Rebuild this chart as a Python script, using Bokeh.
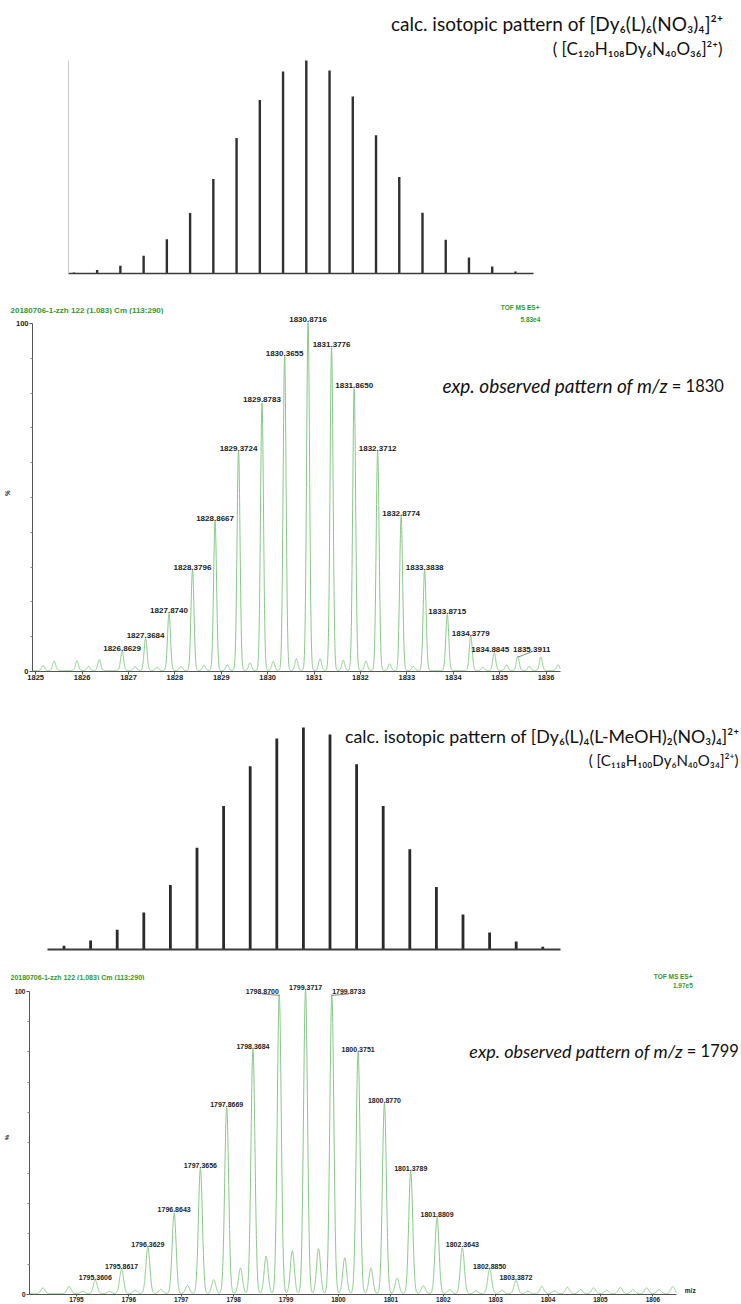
import numpy as np
from bokeh.plotting import figure
from bokeh.models import Range1d, LinearAxis, FixedTicker, Label, ColumnDataSource
from bokeh.layouts import column
from bokeh.embed import file_html
from bokeh.resources import INLINE
from bokeh.core.properties import value

# ---------------- data ----------------
calc1_mz = [1825.87, 1826.37, 1826.87, 1827.37, 1827.87, 1828.37, 1828.87, 1829.37, 1829.87, 1830.37,
            1830.87, 1831.37, 1831.87, 1832.37, 1832.87, 1833.37, 1833.87, 1834.37, 1834.87, 1835.37]
calc1_int = [0.5, 1.6, 3.6, 8.3, 16.1, 28.4, 44.4, 63.6, 81.5, 94.8,
             100, 95.3, 83.1, 64.9, 45.3, 28.5, 15.8, 7.5, 3.3, 0.9]

exp1_mz = [1826.8629, 1827.3684, 1827.8740, 1828.3796, 1828.8667, 1829.3724, 1829.8783, 1830.3655, 1830.8716,
           1831.3776, 1831.8650, 1832.3712, 1832.8774, 1833.3838, 1833.8715, 1834.3779, 1834.8845, 1835.3911]
exp1_int = [5.6, 9.2, 16.4, 28.8, 42.9, 63.0, 76.9, 90.3, 100,
            92.7, 81.0, 63.0, 44.3, 28.8, 16.1, 9.9, 5.1, 4.1]
exp1_other_mz = [1825.16, 1825.40, 1825.89, 1826.14, 1826.37, 1827.14, 1827.62, 1828.13, 1828.63, 1829.13,
                 1829.62, 1830.12, 1830.62, 1831.13, 1831.63, 1832.12, 1832.63, 1833.14, 1834.64, 1835.15,
                 1835.64, 1835.89, 1836.26]
exp1_other_int = [1.4, 2.7, 2.8, 1.2, 3.1, 1.2, 1.0, 1.2, 1.5, 1.6,
                  2.2, 2.6, 3.4, 3.4, 2.9, 2.7, 1.9, 1.2, 1.0, 1.6,
                  1.2, 3.8, 1.6]
exp1_ticks = [1825, 1826, 1827, 1828, 1829, 1830, 1831, 1832, 1833, 1834, 1835, 1836]

calc2_mz = [1794.87, 1795.37, 1795.87, 1796.37, 1796.87, 1797.37, 1797.87, 1798.37, 1798.87, 1799.37,
            1799.87, 1800.37, 1800.87, 1801.37, 1801.87, 1802.37, 1802.87, 1803.37, 1803.87]
calc2_int = [1.7, 4.1, 8.9, 16.7, 29.0, 45.8, 64.6, 82.6, 95.0, 100,
             96.8, 83.5, 64.6, 45.2, 28.2, 15.8, 7.7, 3.6, 1.2]

exp2_mz = [1795.3606, 1795.8617, 1796.3629, 1796.8643, 1797.3656, 1797.8669, 1798.3684, 1798.8700, 1799.3717,
           1799.8733, 1800.3751, 1800.8770, 1801.3789, 1801.8809, 1802.3643, 1802.8850, 1803.3872]
exp2_int = [4.4, 8.0, 15.3, 26.6, 41.3, 61.3, 80.5, 98.6, 100,
            98.6, 79.6, 62.7, 40.3, 25.0, 15.1, 8.0, 4.3]
exp2_other_mz = [1794.36, 1794.86, 1795.12, 1795.63, 1796.12, 1796.61, 1797.12, 1797.62, 1798.13, 1798.62,
                 1799.12, 1799.62, 1800.12, 1800.62, 1801.12, 1801.62, 1802.12, 1802.62, 1803.12, 1803.61,
                 1803.88, 1804.12, 1804.37, 1804.62, 1804.87, 1805.12, 1805.38, 1805.62, 1805.88, 1806.12,
                 1806.38]
exp2_other_int = [1.9, 2.4, 0.8, 0.8, 1.1, 1.4, 2.7, 4.6, 8.4, 12.3,
                  14.2, 14.8, 11.8, 8.4, 5.1, 2.5, 1.3, 0.9, 1.1, 0.8,
                  2.4, 0.9, 2.1, 1.3, 1.9, 1.1, 2.0, 1.3, 1.9, 1.3,
                  2.3]
exp2_ticks = [1795, 1796, 1797, 1798, 1799, 1800, 1801, 1802, 1803, 1804, 1805, 1806]

# label offsets (pixels) for peak annotations that were moved aside
exp1_label_dx = {1834.8845: -4, 1835.3911: 14}
exp1_label_dy = {1835.3911: 4}
exp2_label_dx = {1798.8700: -17, 1799.8733: 17}

W = 741
TITLE_FONT = "Lato"
MS_FONT = "Liberation Sans"
GREEN_TXT = "#2f9a2f"
GREEN_LINE = "#86c986"


def make_fig(h, left, bottom, xr, yr):
    p = figure(width=W, height=h, x_range=Range1d(*xr), y_range=Range1d(*yr),
               output_backend="svg", toolbar_location=None,
               x_axis_location=None, y_axis_location=None,
               min_border_left=left, min_border_right=0, min_border_top=0,
               min_border_bottom=bottom, outline_line_color=None,
               background_fill_color="white", border_fill_color="white",
               frame_align=False)
    p.xgrid.visible = False
    p.ygrid.visible = False
    return p


def plain_axis(bounds, color, width):
    return LinearAxis(bounds=bounds, ticker=FixedTicker(ticks=[]), axis_line_color=color,
                      axis_line_width=width, major_tick_line_color=None, minor_tick_line_color=None,
                      major_label_text_font_size="0px")


def profile(xs, mzs, hs, sigma, base):
    y = np.full_like(xs, base)
    for m, h in zip(mzs, hs):
        y += h * np.exp(-0.5 * ((xs - m) / sigma) ** 2)
    return y


def ms_axes(p, xbounds, ticks, font_size, tick_out, pct_size):
    ax = LinearAxis(bounds=xbounds, ticker=FixedTicker(ticks=ticks),
                    major_label_overrides={t: str(t) for t in ticks},
                    axis_line_color="#555555", axis_line_width=1,
                    major_tick_line_color="#555555", major_tick_out=tick_out, major_tick_in=0,
                    minor_tick_line_color=None, major_label_standoff=0,
                    major_label_text_font=MS_FONT, major_label_text_font_style="bold",
                    major_label_text_font_size=font_size, major_label_text_color="#222222")
    p.add_layout(ax, "below")
    ay = LinearAxis(bounds=(0, 100),
                    ticker=FixedTicker(ticks=[0, 100], minor_ticks=[10, 20, 30, 40, 50, 60, 70, 80, 90]),
                    major_label_overrides={0: "0", 100: "100"},
                    axis_line_color="#555555", axis_line_width=1,
                    major_tick_line_color="#555555", major_tick_out=3, major_tick_in=0,
                    minor_tick_line_color="#888888", minor_tick_out=2, minor_tick_in=0,
                    major_label_standoff=1,
                    major_label_text_font=MS_FONT, major_label_text_font_style="bold",
                    major_label_text_font_size=font_size, major_label_text_color="#222222",
                    axis_label="%", axis_label_standoff=2, axis_label_text_font=MS_FONT,
                    axis_label_text_font_style="bold", axis_label_text_font_size=pct_size,
                    axis_label_text_color="#222222")
    p.add_layout(ay, "left")


def peak_labels(p, mzs, hs, dxs, dys, ppx, ppy, font_size):
    lx, ly = [], []
    for m, h in zip(mzs, hs):
        dx = dxs.get(m, 0)
        dy = dys.get(m, 0)
        lx.append(m + dx / ppx)
        ly.append(h + (1.5 + dy) / ppy)
    src = ColumnDataSource(dict(x=lx, y=ly, t=[f"{m:.4f}" for m in mzs]))
    p.text(x="x", y="y", text="t", source=src, text_font=value(MS_FONT), text_font_style="bold",
           text_font_size=font_size, text_align="center", text_baseline="bottom", text_color="#222222")
    moved = [(m, h, x, y) for m, h, x, y in zip(mzs, hs, lx, ly) if abs(dxs.get(m, 0)) > 5]
    if moved:
        p.segment(x0=[a[0] for a in moved], y0=[a[1] for a in moved],
                  x1=[a[2] for a in moved], y1=[a[3] for a in moved],
                  line_color="#555555", line_width=0.7)


def header_fig(h, left_text, left_size, left_y, right_text, right_x, right_y):
    p = make_fig(h, 0, 0, (0, W), (0, h))
    p.add_layout(Label(x=10, y=left_y, text=left_text, text_font=MS_FONT, text_font_style="bold",
                       text_font_size=left_size, text_align="left", text_baseline="middle",
                       text_color=GREEN_TXT))
    p.add_layout(Label(x=right_x, y=right_y, text=right_text, text_font=MS_FONT, text_font_style="bold",
                       text_font_size="6.5px", text_align="right", text_baseline="middle",
                       text_color=GREEN_TXT))
    return p


# ---------------- panel A : calc. pattern 1 (page y 0-290) ----------------
HA, LA, BA = 290, 68, 17
ppxA, ppyA = 46.48, 2.13
mzA = lambda px: 1830.87 + (px - 305.8) / ppxA
yA = lambda fy: (HA - BA - fy) / ppyA
pA = make_fig(HA, LA, BA, (mzA(LA), mzA(W)), (0, yA(0)))
pA.add_layout(plain_axis((0, 100), "#c8c8c8", 1), "left")
pA.add_layout(plain_axis((mzA(LA), mzA(533)), "#3c3c3c", 1.5), "below")
pA.segment(x0=calc1_mz, y0=[0] * len(calc1_mz), x1=calc1_mz, y1=calc1_int,
           line_width=2.4, line_color="#303030", line_cap="butt")
pA.add_layout(Label(x=mzA(723), y=yA(23), text="calc. isotopic pattern of [Dy\u2086(L)\u2086(NO\u2083)\u2084]\u00b2\u207a",
                    text_font=TITLE_FONT, text_font_size="19px", text_align="right",
                    text_baseline="middle", text_color="#111111"))
pA.add_layout(Label(x=mzA(722), y=yA(48), text="( [C\u2081\u2082\u2080H\u2081\u2080\u2088Dy\u2086N\u2084\u2080O\u2083\u2086]\u00b2\u207a)",
                    text_font=TITLE_FONT, text_font_size="17px", text_align="right",
                    text_baseline="middle", text_color="#111111"))

# ---------------- header of exp. pattern 1 (page y 290-314) ----------------
hB = header_fig(24, "20180706-1-zzh 122 (1.083) Cm (113:290)", "8px", 4, "TOF MS ES+", 539, 7)

# ---------------- panel B : exp. pattern 1 (page y 314-690) ----------------
HB, LB, BB = 376, 29, 19
ppxB, ppyB = 46.59, 3.48
mzB = lambda px: 1825 + (px - 32.2) / ppxB
yB = lambda fy: (HB - BB - fy) / ppyB
pB = make_fig(HB, LB, BB, (mzB(LB), mzB(W)), (0, yB(0)))
ms_axes(pB, (mzB(LB), 1836.31), exp1_ticks, "7.5px", 3, "6.5px")
xsB = np.union1d(np.arange(mzB(LB) + 0.01, 1836.31, 0.002), np.array(exp1_mz))
ysB = profile(xsB, exp1_mz + exp1_other_mz, exp1_int + exp1_other_int, 0.032, 0.3)
pB.line(xsB, ysB, line_color=GREEN_LINE, line_width=1)
peak_labels(pB, exp1_mz, exp1_int, exp1_label_dx, exp1_label_dy, ppxB, ppyB, "8px")
pB.add_layout(Label(x=mzB(539), y=yB(5), text="5.83e4", text_font=MS_FONT, text_font_style="bold",
                    text_font_size="6.5px", text_align="right", text_baseline="middle", text_color=GREEN_TXT))
pB.add_layout(Label(x=mzB(667), y=yB(71), text="exp. observed pattern of m/z", text_font=TITLE_FONT,
                    text_font_style="italic", text_font_size="19px", text_align="right",
                    text_baseline="middle", text_color="#111111"))
pB.add_layout(Label(x=mzB(671), y=yB(71), text="= 1830", text_font=TITLE_FONT,
                    text_font_size="16.5px", text_align="left", text_baseline="middle", text_color="#111111"))

# ---------------- panel C : calc. pattern 2 (page y 690-960) ----------------
HC, LC, BC = 270, 47, 11
ppxC, ppyC = 53.2, 2.22
mzC = lambda px: 1799.37 + (px - 302.9) / ppxC
yC = lambda fy: (HC - BC - fy) / ppyC
pC = make_fig(HC, LC, BC, (mzC(LC), mzC(W)), (0, yC(0)))
pC.add_layout(plain_axis((mzC(LC), mzC(560)), "#3c3c3c", 2), "below")
pC.segment(x0=calc2_mz, y0=[0] * len(calc2_mz), x1=calc2_mz, y1=calc2_int,
           line_width=2.8, line_color="#2a2a2a", line_cap="butt")
pC.add_layout(Label(x=mzC(739), y=yC(45), text="calc. isotopic pattern of [Dy\u2086(L)\u2084(L-MeOH)\u2082(NO\u2083)\u2084]\u00b2\u207a",
                    text_font=TITLE_FONT, text_font_size="17.8px", text_align="right",
                    text_baseline="middle", text_color="#111111"))
pC.add_layout(Label(x=mzC(738), y=yC(69), text="( [C\u2081\u2081\u2088H\u2081\u2080\u2080Dy\u2086N\u2084\u2080O\u2083\u2084]\u00b2\u207a)",
                    text_font=TITLE_FONT, text_font_size="15px", text_align="right",
                    text_baseline="middle", text_color="#111111"))

# ---------------- header of exp. pattern 2 (page y 960-980) ----------------
hD = header_fig(20, "20180706-1-zzh 122 (1.083) Cm (113:290)", "7px", 3.5, "TOF MS ES+", 692, 4)

# ---------------- panel D : exp. pattern 2 (page y 980-1304) ----------------
HD, LD, BD = 324, 25, 9
ppxD, ppyD = 52.7, 3.043
mzD = lambda px: 1795 + (px - 72.2) / ppxD
yD = lambda fy: (HD - BD - fy) / ppyD
pD = make_fig(HD, LD, BD, (mzD(LD), mzD(W)), (0, yD(0)))
ms_axes(pD, (mzD(LD), 1806.457), exp2_ticks, "6.5px", 2, "6px")
xsD = np.union1d(np.arange(mzD(LD) + 0.01, 1806.457, 0.002), np.array(exp2_mz))
ysD = profile(xsD, exp2_mz + exp2_other_mz, exp2_int + exp2_other_int, 0.038, 0.3)
pD.line(xsD, ysD, line_color=GREEN_LINE, line_width=1)
peak_labels(pD, exp2_mz, exp2_int, exp2_label_dx, {}, ppxD, ppyD, "7px")
pD.add_layout(Label(x=mzD(692), y=yD(5), text="1.97e5", text_font=MS_FONT, text_font_style="bold",
                    text_font_size="6.5px", text_align="right", text_baseline="middle", text_color=GREEN_TXT))
pD.add_layout(Label(x=mzD(684), y=0.3, text="m/z", text_font=MS_FONT, text_font_style="bold",
                    text_font_size="6.5px", text_align="left", text_baseline="bottom", text_color="#222222"))
pD.add_layout(Label(x=mzD(682), y=yD(71), text="exp. observed pattern of m/z", text_font=TITLE_FONT,
                    text_font_style="italic", text_font_size="18px", text_align="right",
                    text_baseline="middle", text_color="#111111"))
pD.add_layout(Label(x=mzD(686), y=yD(71), text="= 1799", text_font=TITLE_FONT,
                    text_font_size="16.5px", text_align="left", text_baseline="middle", text_color="#111111"))

layout = column(pA, hB, pB, pC, hD, pD, spacing=0)
open("out.html", "w").write(file_html(layout, INLINE))
